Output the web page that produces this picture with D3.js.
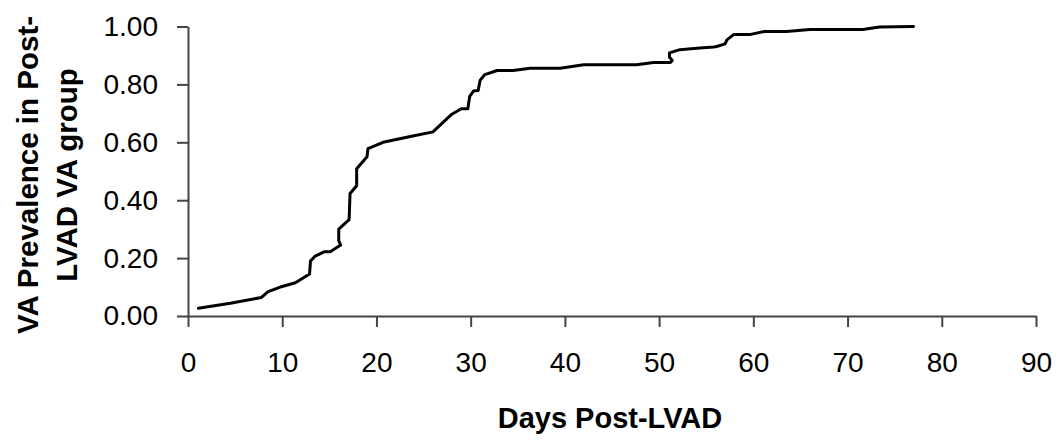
<!DOCTYPE html>
<html lang="en">
<head>
  <meta charset="UTF-8" />
  <title>VA Prevalence Post-LVAD</title>
  <script src="https://d3js.org/d3.v7.min.js"></script>
  <style>
    body { margin: 0; background: #fff; font-family: "Liberation Sans", Arial, sans-serif; }
    .axis path, .axis line { fill: none; stroke: #444; stroke-width: 2; }
    .axis text { fill: #000; font-family: "Liberation Sans", Arial, sans-serif; }
    .curve { fill: none; stroke: #000; stroke-width: 3; stroke-linejoin: round; stroke-linecap: round; }
    .title { font-weight: bold; fill: #000; }
  </style>
</head>
<body>
  <svg width="1064" height="443"></svg>

  <script>
    // Cumulative VA prevalence curve
    const days = [1.1, 4.5, 7.8, 8.5, 9.8, 11.4, 12.9, 13.0, 13.5, 14.5, 15.1, 16.2, 16.0, 16.0, 17.1,
      17.2, 17.9, 17.9, 19.0, 19.1, 20.7, 23.6, 26.0, 28.0, 29.0, 29.7, 29.9, 30.3, 30.8, 31.0,
      31.5, 32.8, 34.5, 36.3, 39.5, 42.0, 47.6, 49.4, 51.2, 51.4, 51.1, 51.1, 52.2, 54.0, 55.8,
      56.1, 57.0, 57.2, 57.9, 59.6, 61.2, 63.5, 66.0, 71.6, 73.4, 77.0];
    const prevalence = [0.027, 0.044, 0.064, 0.084, 0.100, 0.115, 0.145, 0.190, 0.207, 0.222, 0.222, 0.245, 0.260, 0.300, 0.333,
      0.423, 0.450, 0.509, 0.550, 0.578, 0.600, 0.620, 0.636, 0.697, 0.716, 0.716, 0.759, 0.777, 0.779, 0.814,
      0.834, 0.848, 0.848, 0.856, 0.856, 0.868, 0.868, 0.876, 0.876, 0.883, 0.894, 0.909, 0.920, 0.925, 0.929,
      0.931, 0.940, 0.954, 0.972, 0.972, 0.983, 0.983, 0.990, 0.990, 0.998, 1.000];

    const xTicks = [0, 10, 20, 30, 40, 50, 60, 70, 80, 90];
    const yTicks = [0, 0.2, 0.4, 0.6, 0.8, 1.0];

    const data = days.map((d, i) => ({ x: d, y: prevalence[i] }));

    const svg = d3.select("svg");
    const plot = { left: 188, right: 1036, top: 26.5, bottom: 316 };

    const xScale = d3.scaleLinear().domain([0, 90]).range([plot.left, plot.right]);
    const yScale = d3.scaleLinear().domain([0, 1]).range([plot.bottom, plot.top]);

    // Axes
    svg.append("g")
      .attr("class", "axis")
      .attr("transform", `translate(0,${plot.bottom})`)
      .call(d3.axisBottom(xScale).tickValues(xTicks).tickSize(11).tickSizeOuter(0).tickPadding(25).tickFormat(d3.format("d")))
      .call(g => g.selectAll("text").style("font-size", "28px"));

    svg.append("g")
      .attr("class", "axis")
      .attr("transform", `translate(${plot.left},0)`)
      .call(d3.axisLeft(yScale).tickValues(yTicks).tickSize(11).tickSizeOuter(0).tickPadding(19).tickFormat(d3.format(".2f")))
      .call(g => g.selectAll("text").style("font-size", "28px"));

    // Curve
    const line = d3.line()
      .x(d => xScale(d.x))
      .y(d => yScale(d.y));

    svg.append("path")
      .datum(data)
      .attr("class", "curve")
      .attr("d", line);

    // Titles
    svg.append("text")
      .attr("class", "title")
      .attr("x", 610)
      .attr("y", 428)
      .attr("text-anchor", "middle")
      .style("font-size", "29px")
      .text("Days Post-LVAD");

    const yTitle = svg.append("text")
      .attr("class", "title")
      .attr("transform", "translate(38,175) rotate(-90)")
      .attr("text-anchor", "middle")
      .style("font-size", "29.5px");
    yTitle.append("tspan").attr("x", 0).attr("y", 0).text("VA Prevalence in Post-");
    yTitle.append("tspan").attr("x", 0).attr("y", 39).text("LVAD VA group");
  </script>
</body>
</html>
